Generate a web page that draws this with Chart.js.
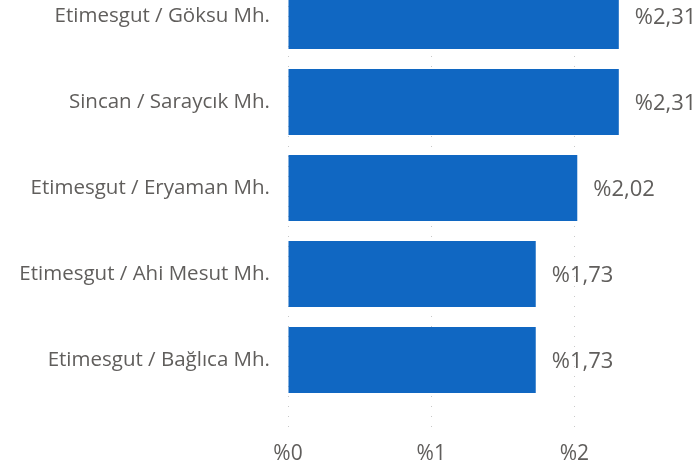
<!DOCTYPE html>
<html>
<head>
<meta charset="utf-8">
<script src="https://cdn.jsdelivr.net/npm/chart.js@4.4.1/dist/chart.umd.min.js"></script>
<style>
html,body{margin:0;padding:0;background:#fff;overflow:hidden;}
#wrap{position:absolute;left:0;top:-27px;width:699px;height:494px;}
</style>
</head>
<body>
<div id="wrap"><canvas id="c"></canvas></div>
<script>
const categories = ["Etimesgut / Göksu Mh.", "Sincan / Saraycık Mh.", "Etimesgut / Eryaman Mh.", "Etimesgut / Ahi Mesut Mh.", "Etimesgut / Bağlıca Mh."];
const values = [2.31, 2.31, 2.02, 1.73, 1.73];
const xTicks = [0, 1, 2];

const FONT = "'Open Sans', 'Noto Sans', sans-serif";
const TEXT = "#605E5C";

function fmt(v, dec) {
  return "%" + v.toFixed(dec).replace(".", ",");
}

const valueLabels = {
  id: "valueLabels",
  afterDatasetsDraw(chart) {
    const ctx = chart.ctx;
    const meta = chart.getDatasetMeta(0);
    ctx.save();
    ctx.font = "22px " + FONT;
    ctx.fillStyle = TEXT;
    ctx.textAlign = "left";
    ctx.textBaseline = "middle";
    meta.data.forEach((bar, i) => {
      ctx.fillText(fmt(values[i], 2), bar.x + 16, bar.y + 2);
    });
    ctx.restore();
  }
};

new Chart(document.getElementById("c"), {
  type: "bar",
  data: {
    labels: categories,
    datasets: [{
      data: values,
      backgroundColor: "#1067C2",
      categoryPercentage: 1,
      barPercentage: 0.767
    }]
  },
  options: {
    indexAxis: "y",
    responsive: true,
    maintainAspectRatio: false,
    animation: false,
    layout: { padding: 0 },
    plugins: { legend: { display: false }, tooltip: { enabled: false } },
    scales: {
      x: {
        min: 0,
        max: 2.87,
        afterFit(s) { s.height = 64; },
        afterBuildTicks(s) { s.ticks = xTicks.map(v => ({ value: v })); },
        ticks: {
          includeBounds: false,
          font: { family: FONT, size: 21 },
          color: TEXT,
          padding: 10,
          callback: v => fmt(v, 0)
        },
        grid: {
          color: "#C8C8C8",
          tickBorderDash: [1, 9],
          tickBorderDashOffset: 7,
          tickLength: 28,
          lineWidth: 1
        },
        border: { display: false, dash: [1, 9], dashOffset: 7 }
      },
      y: {
        afterFit(s) { s.width = 288; s.paddingTop = 0; s.paddingBottom = 0; },
        ticks: {
          font: { family: FONT, size: 20.5 },
          color: TEXT,
          padding: 18
        },
        grid: { display: false, drawTicks: false },
        border: { display: false }
      }
    }
  },
  plugins: [valueLabels]
});
</script>
</body>
</html>
